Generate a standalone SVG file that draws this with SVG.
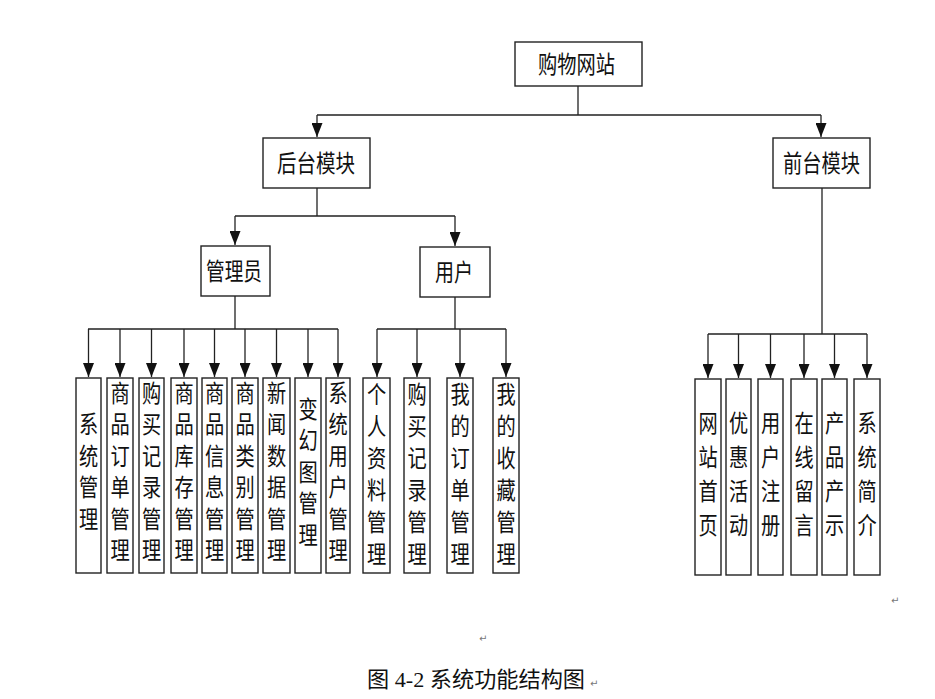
<svg xmlns="http://www.w3.org/2000/svg" width="935" height="699" viewBox="0 0 935 699">
<style>
.box{fill:#fff;stroke:#222;stroke-width:1.4}
.ln{fill:none;stroke:#222;stroke-width:1.3}
.ar{fill:none;stroke:#222;stroke-width:1.3;marker-end:url(#ah)}
.t{font-family:"Noto Sans CJK SC","Liberation Sans",sans-serif;font-size:24px;fill:#111}
.v{font-family:"Noto Sans CJK SC","Liberation Sans",sans-serif;font-size:24px;fill:#111;text-anchor:middle}
.pm{font-family:"DejaVu Sans",sans-serif;font-size:10px;fill:#777}
.cap{font-family:"Liberation Serif","Noto Sans CJK SC",serif;font-size:22px;fill:#111}
</style>
<defs>
<marker id="ah" markerUnits="userSpaceOnUse" markerWidth="14" markerHeight="11" refX="14" refY="5.5" orient="auto">
<path d="M0,0 L14,5.5 L0,11 Z" fill="#111"/>
</marker>
</defs>
<rect width="935" height="699" fill="#fff"/>
<g id="connectors">
<path class="ln" d="M578,86 V115 M317,115 H821"/>
<path class="ar" d="M317,115 V137"/>
<path class="ar" d="M821,115 V137"/>
<path class="ln" d="M317,188 V216 M235,216 H455"/>
<path class="ar" d="M235,216 V245"/>
<path class="ar" d="M455,216 V246"/>
<path class="ln" d="M235,296 V329 M88,329 H338"/>
<path class="ar" d="M88.5,329 V377"/>
<path class="ar" d="M120,329 V377"/>
<path class="ar" d="M151.5,329 V377"/>
<path class="ar" d="M184,329 V377"/>
<path class="ar" d="M214.5,329 V377"/>
<path class="ar" d="M245,329 V377"/>
<path class="ar" d="M276.5,329 V377"/>
<path class="ar" d="M308,329 V377"/>
<path class="ar" d="M338,329 V377"/>
<path class="ln" d="M455,297 V329 M377,329 H506"/>
<path class="ar" d="M377,329 V377"/>
<path class="ar" d="M417,329 V377"/>
<path class="ar" d="M460,329 V377"/>
<path class="ar" d="M506,329 V377"/>
<path class="ln" d="M822,188 V334 M708,334 H867"/>
<path class="ar" d="M708,334 V378"/>
<path class="ar" d="M738.5,334 V378"/>
<path class="ar" d="M770.5,334 V378"/>
<path class="ar" d="M804,334 V378"/>
<path class="ar" d="M834.5,334 V378"/>
<path class="ar" d="M867,334 V378"/>
</g>
<g id="n-root"><rect class="box" x="515" y="42" width="127" height="44"/><text class="t" x="538" y="73" textLength="77" lengthAdjust="spacingAndGlyphs">购物网站</text></g>
<g id="n-back"><rect class="box" x="263" y="138" width="107" height="50"/><text class="t" x="277" y="171.5" textLength="78" lengthAdjust="spacingAndGlyphs">后台模块</text></g>
<g id="n-front"><rect class="box" x="773" y="138" width="97" height="50"/><text class="t" x="783" y="171.5" textLength="77" lengthAdjust="spacingAndGlyphs">前台模块</text></g>
<g id="n-admin"><rect class="box" x="201" y="246" width="69" height="50"/><text class="t" x="206" y="279.5" textLength="56" lengthAdjust="spacingAndGlyphs">管理员</text></g>
<g id="n-user"><rect class="box" x="420" y="247" width="70" height="50"/><text class="t" x="435" y="280.5" textLength="38" lengthAdjust="spacingAndGlyphs">用户</text></g>

<g id="n-a1"><rect class="box" x="76" y="378" width="25" height="195"/><text class="v" transform="translate(88.5,0) scale(0.8,1)"><tspan x="0" y="433.5">系</tspan><tspan x="0" y="465">统</tspan><tspan x="0" y="496.5">管</tspan><tspan x="0" y="528">理</tspan></text></g>
<g id="n-a2"><rect class="box" x="107" y="378" width="26" height="195"/><text class="v" transform="translate(120,0) scale(0.8,1)"><tspan x="0" y="402">商</tspan><tspan x="0" y="433.5">品</tspan><tspan x="0" y="465">订</tspan><tspan x="0" y="496.5">单</tspan><tspan x="0" y="528">管</tspan><tspan x="0" y="559.5">理</tspan></text></g>
<g id="n-a3"><rect class="box" x="139" y="378" width="25" height="195"/><text class="v" transform="translate(151.5,0) scale(0.8,1)"><tspan x="0" y="402">购</tspan><tspan x="0" y="433.5">买</tspan><tspan x="0" y="465">记</tspan><tspan x="0" y="496.5">录</tspan><tspan x="0" y="528">管</tspan><tspan x="0" y="559.5">理</tspan></text></g>
<g id="n-a4"><rect class="box" x="171" y="378" width="26" height="195"/><text class="v" transform="translate(184,0) scale(0.8,1)"><tspan x="0" y="402">商</tspan><tspan x="0" y="433.5">品</tspan><tspan x="0" y="465">库</tspan><tspan x="0" y="496.5">存</tspan><tspan x="0" y="528">管</tspan><tspan x="0" y="559.5">理</tspan></text></g>
<g id="n-a5"><rect class="box" x="202" y="378" width="25" height="195"/><text class="v" transform="translate(214.5,0) scale(0.8,1)"><tspan x="0" y="402">商</tspan><tspan x="0" y="433.5">品</tspan><tspan x="0" y="465">信</tspan><tspan x="0" y="496.5">息</tspan><tspan x="0" y="528">管</tspan><tspan x="0" y="559.5">理</tspan></text></g>
<g id="n-a6"><rect class="box" x="232" y="378" width="26" height="195"/><text class="v" transform="translate(245,0) scale(0.8,1)"><tspan x="0" y="402">商</tspan><tspan x="0" y="433.5">品</tspan><tspan x="0" y="465">类</tspan><tspan x="0" y="496.5">别</tspan><tspan x="0" y="528">管</tspan><tspan x="0" y="559.5">理</tspan></text></g>
<g id="n-a7"><rect class="box" x="263" y="378" width="27" height="195"/><text class="v" transform="translate(276.5,0) scale(0.8,1)"><tspan x="0" y="402">新</tspan><tspan x="0" y="433.5">闻</tspan><tspan x="0" y="465">数</tspan><tspan x="0" y="496.5">据</tspan><tspan x="0" y="528">管</tspan><tspan x="0" y="559.5">理</tspan></text></g>
<g id="n-a8"><rect class="box" x="295" y="378" width="26" height="195"/><text class="v" transform="translate(308,0) scale(0.8,1)"><tspan x="0" y="418">变</tspan><tspan x="0" y="449.5">幻</tspan><tspan x="0" y="481">图</tspan><tspan x="0" y="512.5">管</tspan><tspan x="0" y="544">理</tspan></text></g>
<g id="n-a9"><rect class="box" x="326" y="378" width="24" height="195"/><text class="v" transform="translate(338,0) scale(0.8,1)"><tspan x="0" y="402">系</tspan><tspan x="0" y="433.5">统</tspan><tspan x="0" y="465">用</tspan><tspan x="0" y="496.5">户</tspan><tspan x="0" y="528">管</tspan><tspan x="0" y="559.5">理</tspan></text></g>

<g id="n-u1"><rect class="box" x="363" y="378" width="27" height="195"/><text class="v" transform="translate(376.5,0) scale(0.8,1)"><tspan x="0" y="403">个</tspan><tspan x="0" y="435">人</tspan><tspan x="0" y="467">资</tspan><tspan x="0" y="499">料</tspan><tspan x="0" y="531">管</tspan><tspan x="0" y="563">理</tspan></text></g>
<g id="n-u2"><rect class="box" x="404" y="378" width="26" height="195"/><text class="v" transform="translate(417,0) scale(0.8,1)"><tspan x="0" y="403">购</tspan><tspan x="0" y="435">买</tspan><tspan x="0" y="467">记</tspan><tspan x="0" y="499">录</tspan><tspan x="0" y="531">管</tspan><tspan x="0" y="563">理</tspan></text></g>
<g id="n-u3"><rect class="box" x="447" y="378" width="26" height="195"/><text class="v" transform="translate(460,0) scale(0.8,1)"><tspan x="0" y="403">我</tspan><tspan x="0" y="435">的</tspan><tspan x="0" y="467">订</tspan><tspan x="0" y="499">单</tspan><tspan x="0" y="531">管</tspan><tspan x="0" y="563">理</tspan></text></g>
<g id="n-u4"><rect class="box" x="493" y="378" width="26" height="195"/><text class="v" transform="translate(506,0) scale(0.8,1)"><tspan x="0" y="403">我</tspan><tspan x="0" y="435">的</tspan><tspan x="0" y="467">收</tspan><tspan x="0" y="499">藏</tspan><tspan x="0" y="531">管</tspan><tspan x="0" y="563">理</tspan></text></g>

<g id="n-f1"><rect class="box" x="695" y="379" width="26" height="196"/><text class="v" transform="translate(708,0) scale(0.8,1)"><tspan x="0" y="432">网</tspan><tspan x="0" y="466">站</tspan><tspan x="0" y="500">首</tspan><tspan x="0" y="534">页</tspan></text></g>
<g id="n-f2"><rect class="box" x="726" y="379" width="25" height="196"/><text class="v" transform="translate(738.5,0) scale(0.8,1)"><tspan x="0" y="432">优</tspan><tspan x="0" y="466">惠</tspan><tspan x="0" y="500">活</tspan><tspan x="0" y="534">动</tspan></text></g>
<g id="n-f3"><rect class="box" x="758" y="379" width="25" height="196"/><text class="v" transform="translate(770.5,0) scale(0.8,1)"><tspan x="0" y="432">用</tspan><tspan x="0" y="466">户</tspan><tspan x="0" y="500">注</tspan><tspan x="0" y="534">册</tspan></text></g>
<g id="n-f4"><rect class="box" x="791" y="379" width="26" height="196"/><text class="v" transform="translate(804,0) scale(0.8,1)"><tspan x="0" y="432">在</tspan><tspan x="0" y="466">线</tspan><tspan x="0" y="500">留</tspan><tspan x="0" y="534">言</tspan></text></g>
<g id="n-f5"><rect class="box" x="822" y="379" width="25" height="196"/><text class="v" transform="translate(834.5,0) scale(0.8,1)"><tspan x="0" y="432">产</tspan><tspan x="0" y="466">品</tspan><tspan x="0" y="500">产</tspan><tspan x="0" y="534">示</tspan></text></g>
<g id="n-f6"><rect class="box" x="854" y="379" width="26" height="196"/><text class="v" transform="translate(867,0) scale(0.8,1)"><tspan x="0" y="432">系</tspan><tspan x="0" y="466">统</tspan><tspan x="0" y="500">简</tspan><tspan x="0" y="534">介</tspan></text></g>

<text class="pm" x="891" y="604">↵</text>
<text class="pm" x="479" y="642">↵</text>
<text class="cap" x="367" y="687" textLength="218" lengthAdjust="spacingAndGlyphs">图 4-2 系统功能结构图</text>
<text class="pm" x="590" y="687">↵</text>
</svg>
